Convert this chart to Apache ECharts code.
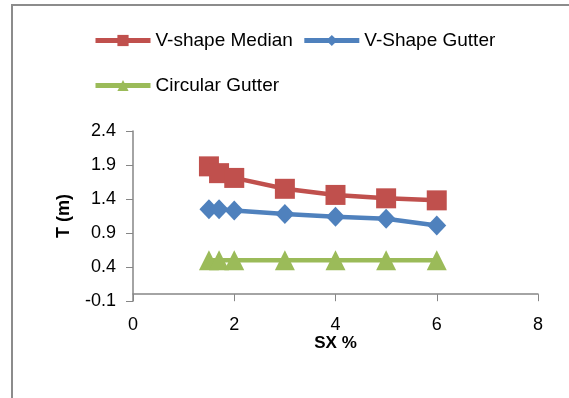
<!DOCTYPE html>
<html><head><meta charset="utf-8">
<script src="https://cdn.jsdelivr.net/npm/echarts@6/dist/echarts.min.js"></script>
<style>
html,body{margin:0;padding:0;background:#fff;}
#wrap{position:absolute;left:0;top:0;width:569px;height:398px;overflow:hidden;}
#frame{position:absolute;left:11px;top:4px;width:600px;height:420px;border:2px solid #8c8c8c;box-sizing:border-box;}
#chart{position:absolute;left:0;top:0;width:569px;height:398px;}
</style></head>
<body><div id="wrap"><div id="frame"></div><div id="chart"></div></div>
<script>
const xValues = [1.5, 1.7, 2, 3, 4, 5, 6];
const vShapeMedian = [1.88, 1.78, 1.71, 1.55, 1.46, 1.41, 1.38];
const vShapeGutter = [1.25, 1.25, 1.23, 1.18, 1.14, 1.11, 1.01];
const circularGutter = [0.5, 0.5, 0.5, 0.5, 0.5, 0.5, 0.5];
const seriesNames = ['V-shape Median', 'V-Shape Gutter', 'Circular Gutter'];
const yTicks = [-0.1, 0.4, 0.9, 1.4, 1.9, 2.4];
const xTicks = [0, 2, 4, 6, 8];

const pair = arr => xValues.map((x, i) => [x, arr[i]]);
const font = '"Liberation Sans", Arial, sans-serif';
const chart = echarts.init(document.getElementById('chart'), null, {renderer: 'canvas'});
const legendText = {fontSize: 19, color: '#000', fontFamily: font};
const legendCommon = {left: 93, itemWidth: 55, itemHeight: 14, itemGap: 9, padding: 0,
  textStyle: legendText, lineStyle: {width: 5}};
chart.setOption({
  animation: false,
  backgroundColor: 'transparent',
  grid: {left: 133, right: 31, top: 131, bottom: 97, containLabel: false},
  legend: [
    Object.assign({data: [seriesNames[0], seriesNames[1]], top: 31}, legendCommon),
    Object.assign({data: [seriesNames[2]], top: 76}, legendCommon)
  ],
  xAxis: {
    type: 'value', min: xTicks[0], max: xTicks[xTicks.length - 1], interval: 2,
    name: 'SX %', nameLocation: 'middle', nameGap: 33,
    nameTextStyle: {fontSize: 17, fontWeight: 'bold', color: '#000', fontFamily: font},
    axisLine: {onZero: true, lineStyle: {color: '#868686', width: 1.5}},
    axisTick: {show: true, length: 7, inside: false, lineStyle: {color: '#868686'}},
    axisLabel: {fontSize: 18, color: '#000', fontFamily: font, margin: 15},
    splitLine: {show: false}
  },
  yAxis: {
    type: 'value', min: yTicks[0], max: yTicks[yTicks.length - 1], interval: 0.5,
    name: 'T (m)', nameLocation: 'middle', nameGap: 60, nameRotate: 90,
    nameTextStyle: {fontSize: 18, fontWeight: 'bold', color: '#000', fontFamily: font},
    axisLine: {show: true, lineStyle: {color: '#868686', width: 1.5}},
    axisTick: {show: true, length: 7, lineStyle: {color: '#868686'}},
    axisLabel: {fontSize: 18, color: '#000', fontFamily: font, margin: 17,
      formatter: v => v.toFixed(1)},
    splitLine: {show: false}
  },
  series: [
    {name: seriesNames[0], type: 'line', data: pair(vShapeMedian), symbol: 'rect', symbolSize: 20,
      itemStyle: {color: '#C0504D'}, lineStyle: {color: '#C0504D', width: 4.5}},
    {name: seriesNames[1], type: 'line', data: pair(vShapeGutter), symbol: 'diamond', symbolSize: [19, 20],
      itemStyle: {color: '#4F81BD'}, lineStyle: {color: '#4F81BD', width: 4.5}},
    {name: seriesNames[2], type: 'line', data: pair(circularGutter), symbol: 'triangle', symbolSize: [20, 20],
      itemStyle: {color: '#9BBB59'}, lineStyle: {color: '#9BBB59', width: 4.5}}
  ]
});
</script></body></html>
